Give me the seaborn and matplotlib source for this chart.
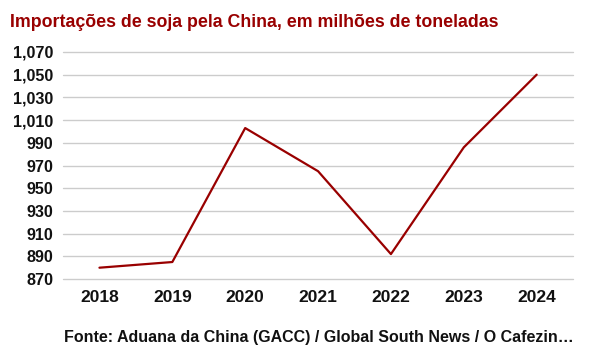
import matplotlib
matplotlib.use("Agg")
import matplotlib.pyplot as plt
import matplotlib.ticker as mticker
import pandas as pd
import seaborn as sns

# Soybean imports by China, millions of tonnes
years = [2018, 2019, 2020, 2021, 2022, 2023, 2024]
imports = [880, 885, 1003, 965, 892, 986, 1050]
y_ticks = list(range(870, 1071, 20))

title = "Importações de soja pela China, em milhões de toneladas"
source = "Fonte: Aduana da China (GACC) / Global South News / O Cafezin…"

df = pd.DataFrame({"ano": years, "importacoes": imports})

sns.set_theme(style="white")
plt.rcParams["font.family"] = ["Liberation Sans", "DejaVu Sans"]

fig = plt.figure(figsize=(5.89, 3.61), dpi=100)
ax = fig.add_axes([0.107, 0.227, 0.866, 0.629])

sns.lineplot(data=df, x="ano", y="importacoes", color="#990000", linewidth=1.6, ax=ax)

ax.set_xlim(years[0] - 0.5, years[-1] + 0.5)
ax.set_ylim(y_ticks[0], y_ticks[-1])
ax.set_xticks(years)
ax.set_yticks(y_ticks)
ax.yaxis.set_major_formatter(mticker.FuncFormatter(lambda v, p: f"{int(v):,}"))
ax.grid(axis="y", color="#cccccc", linewidth=1, clip_on=False)
ax.set_axisbelow(True)
for s in ax.spines.values():
    s.set_visible(False)
ax.tick_params(axis="x", length=0, pad=8, labelsize=12.5, labelcolor="#111111")
ax.tick_params(axis="y", length=0, pad=7, labelsize=11.6, labelcolor="#111111")
for lbl in ax.get_xticklabels() + ax.get_yticklabels():
    lbl.set_fontweight("bold")
ax.set_xlabel("")
ax.set_ylabel("")

fig.text(0.017, 0.939, title, color="#990000", fontsize=12.75, fontweight="bold",
         ha="left", va="center")
fig.text(0.109, 0.066, source, color="#111111", fontsize=11.5, fontweight="bold",
         ha="left", va="center")

fig.savefig("out.png", dpi=100)
